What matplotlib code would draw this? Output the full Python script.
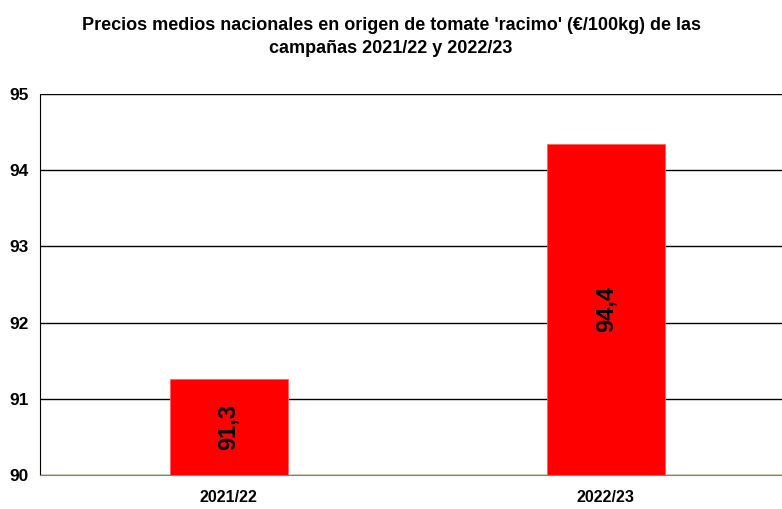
import matplotlib.pyplot as plt

plt.rcParams['font.family'] = ['Liberation Sans Narrow', 'Liberation Sans', 'DejaVu Sans']

campaigns = ['2021/22', '2022/23']
prices = [91.26, 94.35]
labels = ['91,3', '94,4']

fig = plt.figure(figsize=(7.82, 5.09), dpi=100)
ax = fig.add_axes([40 / 782, 1 - 475 / 509, 742 / 782, (475 - 94) / 509])

x = range(len(campaigns))
bars = ax.bar(x, prices, width=0.313, bottom=0, color='#ff0000', edgecolor='#ff6060',
              linewidth=0.6, zorder=3)
for b, lab in zip(bars, labels):
    cy = (90 + b.get_height()) / 2
    ax.text(b.get_x() + b.get_width() / 2, cy, lab, rotation=90, ha='center', va='center',
            fontsize=17, fontweight='bold', family=['Liberation Sans', 'DejaVu Sans'], zorder=4)

ax.set_ylim(90, 95)
ax.set_xlim(-0.5, 1.467)
ax.set_yticks([90, 91, 92, 93, 94, 95])
ax.set_xticks(list(x))
ax.set_xticklabels(campaigns, fontsize=11.5, fontweight='bold')
ax.set_yticklabels(['90', '91', '92', '93', '94', '95'], fontsize=12.5, fontweight='bold')
ax.tick_params(length=0)
ax.tick_params(axis='y', pad=8)
ax.tick_params(axis='x', pad=11)
ax.grid(axis='y', color='black', linewidth=1, zorder=0)
ax.set_axisbelow(True)
for s in ['top', 'right']:
    ax.spines[s].set_visible(False)
ax.spines['left'].set_color('black')
ax.spines['bottom'].set_color('#77933c')
ax.spines['bottom'].set_zorder(5)

fig.text(0.5, 1 - 37 / 509,
         "Precios medios nacionales en origen de tomate 'racimo' (€/100kg) de las\ncampañas 2021/22 y 2022/23",
         ha='center', va='center', fontsize=13, fontweight='bold', linespacing=1.5)

fig.savefig('out.png', dpi=100)
